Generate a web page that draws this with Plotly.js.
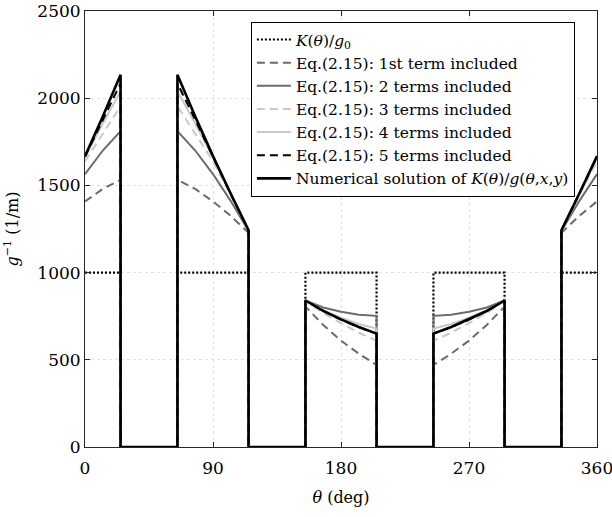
<!DOCTYPE html>
<html>
<head>
<meta charset="utf-8">
<script src="https://cdn.plot.ly/plotly-3.0.1.min.js"></script>
<style>html,body{margin:0;padding:0;background:#fff;}#chart{width:612px;height:517px;}</style>
</head>
<body>
<div id="chart"></div>
<script>
// theta grid (deg) shared by all series; repeated values are the vertical jumps
const theta = [0, 12.5, 25, 25, 65, 65, 77.5, 90, 102.5, 115, 115, 155, 155, 167.5, 180, 192.5, 205, 205, 245, 245, 257.5, 270, 282.5, 295, 295, 335, 335, 347.5, 360];

const kOverG0   = [1000,1000,1000,0,0,1000,1000,1000,1000,1000,0,0,1000,1000,1000,1000,1000,0,0,1000,1000,1000,1000,1000,0,0,1000,1000,1000];
const eq1Term   = [1408,1480,1532,0,0,1532,1480,1408,1325,1228,0,0,805,700,610,535,470,0,0,470,535,610,700,805,0,0,1228,1325,1408];
const eq2Terms  = [1565,1700,1811,0,0,1811,1700,1565,1410,1238,0,0,840,800,775,758,752,0,0,752,758,775,800,840,0,0,1238,1410,1565];
const eq3Terms  = [1638,1800,1955,0,0,1955,1800,1638,1443,1240,0,0,840,768,710,655,610,0,0,610,655,710,768,840,0,0,1240,1443,1638];
const eq4Terms  = [1660,1855,2040,0,0,2040,1855,1660,1450,1240,0,0,840,785,742,705,680,0,0,680,705,742,785,840,0,0,1240,1450,1660];
const eq5Terms  = [1665,1878,2085,0,0,2085,1878,1665,1450,1242,0,0,840,780,730,687,650,0,0,650,687,730,780,840,0,0,1242,1450,1665];
const numerical = [1668,1895,2135,0,0,2135,1895,1668,1452,1243,0,0,840,780,732,688,650,0,0,650,688,732,780,840,0,0,1243,1452,1668];

const names = [
  '<i>K</i>(<i>θ</i>)/<i>g</i><sub>0</sub>',
  'Eq.(2.15): 1st term included',
  'Eq.(2.15): 2 terms included',
  'Eq.(2.15): 3 terms included',
  'Eq.(2.15): 4 terms included',
  'Eq.(2.15): 5 terms included',
  'Numerical solution of <i>K</i>(<i>θ</i>)/<i>g</i>(<i>θ</i>,<i>x</i>,<i>y</i>)'
];
const xTicks = [0, 90, 180, 270, 360];
const yTicks = [0, 500, 1000, 1500, 2000, 2500];

const series = [kOverG0, eq1Term, eq2Terms, eq3Terms, eq4Terms, eq5Terms, numerical];
const styles = [
  {color:'#000000', width:2.2, dash:'2px,2px'},
  {color:'#6b6b6b', width:2, dash:'8px,5px'},
  {color:'#6b6b6b', width:2, dash:'solid'},
  {color:'#c8c8c8', width:2, dash:'8px,5px'},
  {color:'#c8c8c8', width:2, dash:'solid'},
  {color:'#000000', width:2, dash:'8px,5px'},
  {color:'#000000', width:2.6, dash:'solid'}
];

const traces = series.map((ys, i) => ({
  x: theta, y: ys, type: 'scatter', mode: 'lines', name: names[i],
  line: styles[i], hoverinfo: 'skip'
}));

const font = {family: 'DejaVu Serif', color: '#000'};
const layout = {
  width: 612, height: 517,
  margin: {l: 85, r: 15, t: 11, b: 70},
  paper_bgcolor: '#fff', plot_bgcolor: '#fff',
  font: Object.assign({size: 17}, font),
  showlegend: true,
  legend: {
    x: 0.324, y: 0.975, xanchor: 'left', yanchor: 'top',
    bgcolor: '#fff', bordercolor: '#000', borderwidth: 1,
    font: Object.assign({size: 15.5}, font),
    itemwidth: 34, tracegroupgap: 0
  },
  xaxis: {
    range: [0, 360], tickvals: xTicks, ticktext: xTicks.map(String),
    showgrid: true, gridcolor: '#e2e2e2', griddash: 'dot', gridwidth: 1,
    zeroline: false, showline: true, linecolor: '#262626', linewidth: 1, mirror: 'ticks',
    ticks: 'inside', ticklen: 5, tickcolor: '#262626', ticklabelstandoff: 6,
    ticklabeloverflow: 'allow',
    tickfont: Object.assign({size: 17}, font),
    title: {text: '<i>θ</i> (deg)', font: Object.assign({size: 16}, font), standoff: 14}
  },
  yaxis: {
    range: [0, 2500], tickvals: yTicks, ticktext: yTicks.map(String),
    showgrid: true, gridcolor: '#e2e2e2', griddash: 'dot', gridwidth: 1,
    zeroline: false, showline: true, linecolor: '#262626', linewidth: 1, mirror: 'ticks',
    ticks: 'inside', ticklen: 5, tickcolor: '#262626',
    ticklabeloverflow: 'allow',
    tickfont: Object.assign({size: 17}, font),
    title: {text: '<i>g</i><sup>−1</sup> (1/m)', font: Object.assign({size: 16}, font), standoff: 14}
  }
};

Plotly.newPlot('chart', traces, layout, {displayModeBar: false, staticPlot: true});
</script>
</body>
</html>
